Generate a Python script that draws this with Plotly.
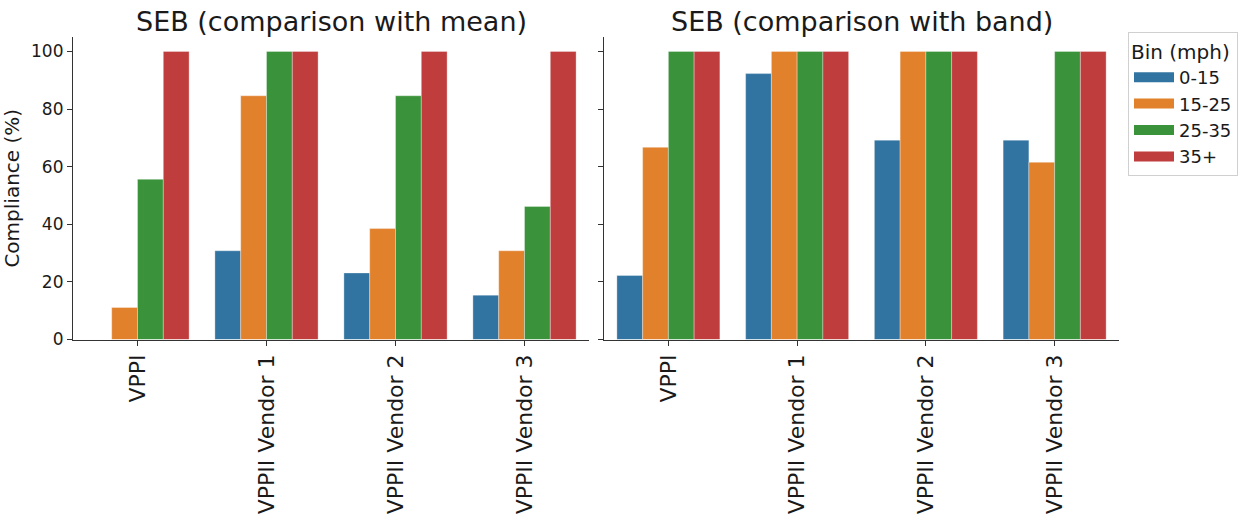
import plotly.graph_objects as go

categories = ["VPPI", "VPPII Vendor 1", "VPPII Vendor 2", "VPPII Vendor 3"]
bins = ["0-15", "15-25", "25-35", "35+"]
colors = ["#3274a1", "#e1812c", "#3a923a", "#c03d3e"]

mean_vals = {
    "0-15": [0.0, 30.8, 23.1, 15.4],
    "15-25": [11.1, 84.6, 38.5, 30.8],
    "25-35": [55.6, 100.0, 84.6, 46.2],
    "35+": [100.0, 100.0, 100.0, 100.0],
}
band_vals = {
    "0-15": [22.2, 92.3, 69.2, 69.2],
    "15-25": [66.7, 100.0, 100.0, 61.5],
    "25-35": [100.0, 100.0, 100.0, 100.0],
    "35+": [100.0, 100.0, 100.0, 100.0],
}

FONT = "DejaVu Sans"
TXT = "#1a1a1a"
AX = "#333333"

fig = go.Figure()
edge = dict(color="rgba(255,255,255,0.55)", width=0.6)
for b, c in zip(bins, colors):
    fig.add_trace(go.Bar(x=categories, y=mean_vals[b], name=b, marker=dict(color=c, line=edge),
                         xaxis="x", yaxis="y", legendgroup=b, showlegend=False))
for b, c in zip(bins, colors):
    fig.add_trace(go.Bar(x=categories, y=band_vals[b], name=b, marker=dict(color=c, line=edge),
                         xaxis="x2", yaxis="y2", legendgroup=b, showlegend=False))
# legend entries (wide rectangular swatches like the reference)
for b, c in zip(bins, colors):
    fig.add_trace(go.Scatter(x=[None], y=[None], mode="lines", name=b, line=dict(color=c, width=14),
                             xaxis="x", yaxis="y", legendgroup=b, showlegend=True, hoverinfo="skip"))

W, H = 1257, 519
xd1 = [73 / W, 589 / W]
xd2 = [604 / W, 1119 / W]
yd = [1 - 339.5 / H, 1 - 37 / H]

common_x = dict(showline=True, linecolor=AX, linewidth=1.2, ticks="outside", ticklen=5, tickcolor=AX,
                tickangle=-90, tickfont=dict(family=FONT, size=22, color=TXT), showgrid=False,
                range=[-0.5, 3.5], zeroline=False, automargin=False)
common_y = dict(showline=True, linecolor=AX, linewidth=1.2, ticks="outside", ticklen=5, tickcolor=AX,
                range=[0, 105], tickvals=[0, 20, 40, 60, 80, 100], showgrid=False, zeroline=False,
                tickfont=dict(family=FONT, size=17, color=TXT), automargin=False)

fig.update_layout(
    width=W, height=H,
    margin=dict(l=0, r=0, t=0, b=0, autoexpand=False),
    plot_bgcolor="white", paper_bgcolor="white",
    barmode="group", bargap=0.2, bargroupgap=0,
    font=dict(family=FONT, color=TXT),
    xaxis=dict(domain=xd1, anchor="y", **common_x),
    xaxis2=dict(domain=xd2, anchor="y2", **common_x),
    yaxis=dict(domain=yd, anchor="x", title=dict(text="Compliance (%)", font=dict(family=FONT, size=20, color=TXT), standoff=10), **common_y),
    yaxis2=dict(domain=yd, anchor="x2", showticklabels=False, **common_y),
    legend=dict(x=1128 / W, y=1 - 32 / H, xanchor="left", yanchor="top",
                bordercolor="#d0d0d0", borderwidth=1, bgcolor="white",
                title=dict(text="Bin (mph)", font=dict(family=FONT, size=20, color=TXT)),
                font=dict(family=FONT, size=18, color=TXT), tracegroupgap=0, itemwidth=40),
    annotations=[
        dict(text="SEB (comparison with mean)", x=(xd1[0] + xd1[1]) / 2, y=1 - 22 / H, xref="paper", yref="paper",
             showarrow=False, font=dict(family=FONT, size=27, color=TXT), xanchor="center", yanchor="middle"),
        dict(text="SEB (comparison with band)", x=(xd2[0] + xd2[1]) / 2, y=1 - 22 / H, xref="paper", yref="paper",
             showarrow=False, font=dict(family=FONT, size=27, color=TXT), xanchor="center", yanchor="middle"),
    ],
)

fig.write_html("out.html", config={"displayModeBar": False},
               post_script="document.body.style.margin='0';document.body.style.overflow='hidden';")
